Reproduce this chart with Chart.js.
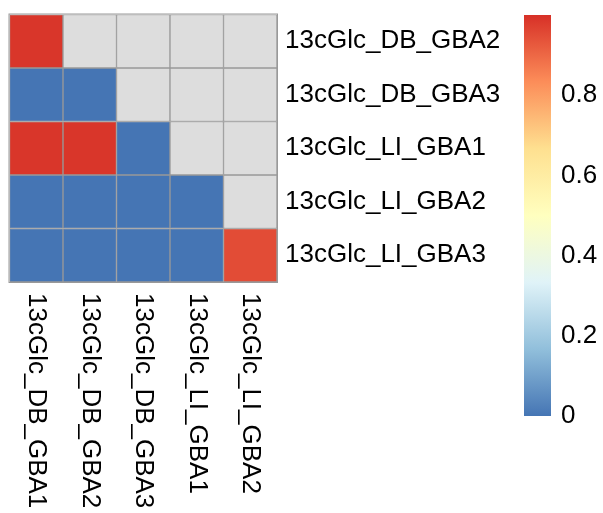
<!DOCTYPE html>
<html lang="en">
<head>
  <meta charset="UTF-8">
  <title>13cGlc correlation heatmap</title>
  <script src="https://cdn.jsdelivr.net/npm/chart.js"></script>
  <style>
    body { margin: 0; background: #fff; }
    #wrap { position: relative; width: 603px; height: 513px; }
    #heat { position: absolute; left: 0; top: 0; width: 520px; height: 513px; }
    #legend { position: absolute; left: 500px; top: 0; width: 103px; height: 513px; }
  </style>
</head>
<body>
  <div id="wrap">
    <div id="heat"><canvas id="heatChart"></canvas></div>
    <div id="legend"><canvas id="legendChart"></canvas></div>
  </div>

  <script>
    const rowLabels = ['13cGlc_DB_GBA2', '13cGlc_DB_GBA3', '13cGlc_LI_GBA1', '13cGlc_LI_GBA2', '13cGlc_LI_GBA3'];
    const colLabels = ['13cGlc_DB_GBA1', '13cGlc_DB_GBA2', '13cGlc_DB_GBA3', '13cGlc_LI_GBA1', '13cGlc_LI_GBA2'];

    // null = NA (upper triangle)
    const rowDB_GBA2 = [0.99, null, null, null, null];
    const rowDB_GBA3 = [0.0, 0.0, null, null, null];
    const rowLI_GBA1 = [0.99, 0.99, 0.0, null, null];
    const rowLI_GBA2 = [0.0, 0.0, 0.0, 0.0, null];
    const rowLI_GBA3 = [0.0, 0.0, 0.0, 0.0, 0.95];

    const legendMin = 0;
    const legendMax = 1;
    const legendTicks = [0, 0.2, 0.4, 0.6, 0.8];

    const palette = ['#4575B4', '#91BFDB', '#E0F3F8', '#FFFFBF', '#FEE090', '#FC8D59', '#D73027'];
    const naColor = '#DDDDDD';
    const cellBorder = '#999999';
    const fontFamily = "'Liberation Sans', Arial, sans-serif";

    const matrix = [rowDB_GBA2, rowDB_GBA3, rowLI_GBA1, rowLI_GBA2, rowLI_GBA3];

    function hexToRgb(h) {
      return [1, 3, 5].map(k => parseInt(h.slice(k, k + 2), 16));
    }

    function colorFor(v) {
      if (v === null) return naColor;
      const t = Math.min(1, Math.max(0, (v - legendMin) / (legendMax - legendMin))) * (palette.length - 1);
      const i = Math.min(palette.length - 2, Math.floor(t));
      const f = t - i;
      const a = hexToRgb(palette[i]), b = hexToRgb(palette[i + 1]);
      const c = a.map((x, k) => Math.round(x + (b[k] - x) * f));
      return `rgb(${c[0]},${c[1]},${c[2]})`;
    }

    // frame round the whole grid
    const framePlugin = {
      id: 'frame',
      afterDatasetsDraw(chart) {
        const { ctx, chartArea: a } = chart;
        ctx.save();
        ctx.strokeStyle = cellBorder;
        ctx.lineWidth = 1;
        ctx.strokeRect(a.left - 0.5, a.top - 0.5, a.right - a.left + 1, a.bottom - a.top + 1);
        ctx.restore();
      }
    };

    // column labels read top to bottom
    const colLabelPlugin = {
      id: 'colLabels',
      afterDraw(chart) {
        const { ctx } = chart;
        const xs = chart.scales.x;
        ctx.save();
        ctx.fillStyle = '#000';
        ctx.font = `26px ${fontFamily}`;
        ctx.textAlign = 'left';
        ctx.textBaseline = 'middle';
        colLabels.forEach((lab, j) => {
          ctx.save();
          ctx.translate(xs.getPixelForValue(j), xs.top + 11);
          ctx.rotate(Math.PI / 2);
          ctx.fillText(lab, 0, 0);
          ctx.restore();
        });
        ctx.restore();
      }
    };

    new Chart(document.getElementById('heatChart'), {
      type: 'bar',
      data: {
        labels: colLabels,
        datasets: matrix.map((vals, i) => ({
          data: colLabels.map(c => ({ x: c, y: [i, i + 1] })),
          backgroundColor: vals.map(colorFor),
          borderColor: cellBorder,
          borderWidth: 1,
          borderSkipped: false,
          barPercentage: 1,
          categoryPercentage: 1,
          grouped: false
        }))
      },
      options: {
        responsive: true,
        maintainAspectRatio: false,
        animation: false,
        layout: { padding: { left: 9.5, top: 14.5, right: 0, bottom: 0 } },
        plugins: { legend: { display: false }, tooltip: { enabled: false } },
        scales: {
          x: {
            type: 'category',
            offset: true,
            grid: { display: false },
            border: { display: false },
            ticks: { display: false },
            afterFit(s) { s.height = 231; s.paddingLeft = 0; s.paddingRight = 0; }
          },
          y: {
            type: 'linear',
            position: 'right',
            min: 0,
            max: 5,
            reverse: true,
            grid: { display: false, drawTicks: false },
            border: { display: false },
            afterBuildTicks(s) { s.ticks = rowLabels.map((_, i) => ({ value: i + 0.5 })); },
            ticks: {
              padding: 8,
              crossAlign: 'near',
              autoSkip: false,
              color: '#000',
              font: { size: 26, family: fontFamily },
              callback: v => rowLabels[Math.floor(v)]
            },
            afterFit(s) { s.width = 243; s.paddingTop = 0; s.paddingBottom = 0; }
          }
        }
      },
      plugins: [framePlugin, colLabelPlugin]
    });

    new Chart(document.getElementById('legendChart'), {
      type: 'bar',
      data: {
        labels: [''],
        datasets: [{
          data: [[legendMin, legendMax]],
          backgroundColor(c) {
            const chart = c.chart;
            const ys = chart.scales.y;
            if (!chart.chartArea || !ys) return palette[0];
            const g = chart.ctx.createLinearGradient(0, ys.getPixelForValue(legendMin), 0, ys.getPixelForValue(legendMax));
            palette.forEach((col, k) => g.addColorStop(k / (palette.length - 1), col));
            return g;
          },
          borderWidth: 0,
          barPercentage: 1,
          categoryPercentage: 1
        }]
      },
      options: {
        responsive: true,
        maintainAspectRatio: false,
        animation: false,
        layout: { padding: { left: 24, top: 15, right: 0, bottom: 97 } },
        plugins: { legend: { display: false }, tooltip: { enabled: false } },
        scales: {
          x: { display: false },
          y: {
            position: 'right',
            min: legendMin,
            max: legendMax,
            grid: { display: false, drawTicks: false },
            border: { display: false },
            afterBuildTicks(s) { s.ticks = legendTicks.map(v => ({ value: v })); },
            ticks: {
              padding: 10,
              crossAlign: 'near',
              color: '#000',
              font: { size: 26, family: fontFamily },
              callback: v => String(v)
            },
            afterFit(s) { s.width = 52; s.paddingTop = 0; s.paddingBottom = 0; }
          }
        }
      }
    });
  </script>
</body>
</html>
